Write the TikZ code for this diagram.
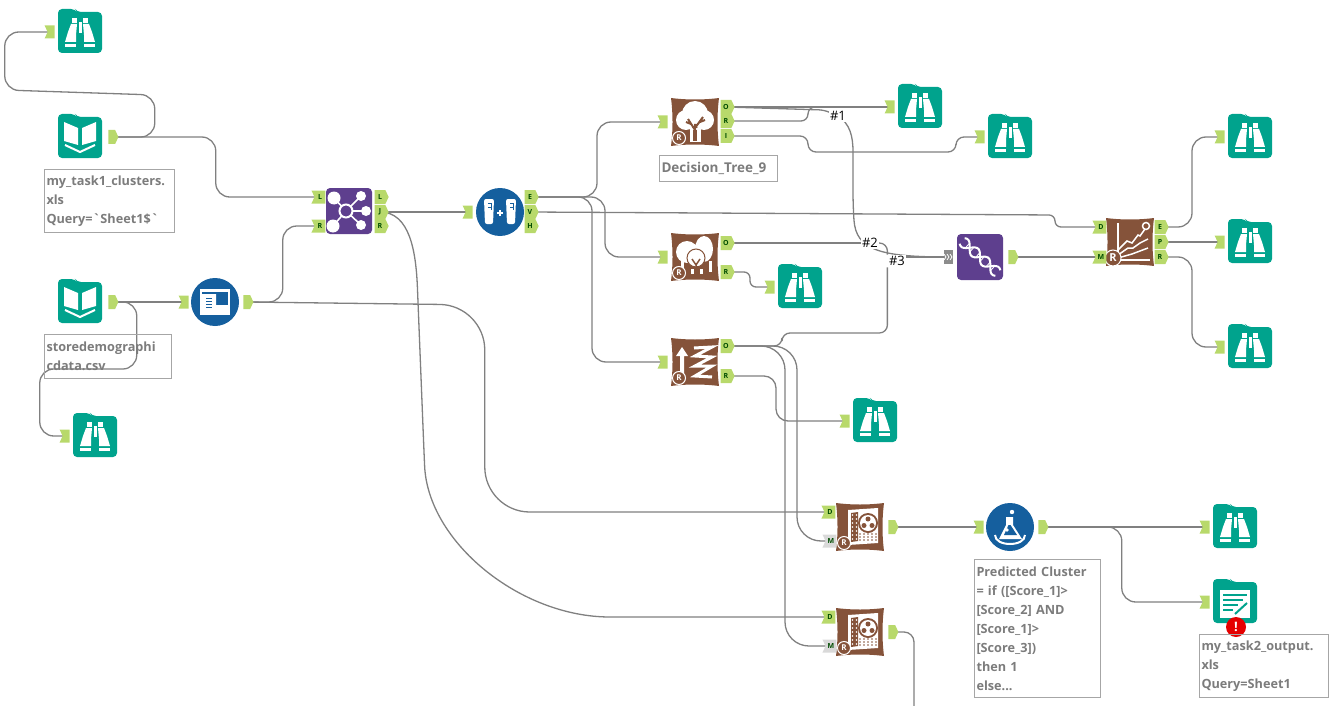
\documentclass[tikz,border=0pt]{standalone}
\usepackage{fontspec}
\newfontfamily\notefont{Open Sans}
\usetikzlibrary{positioning,backgrounds,shapes.symbols}

\definecolor{tealc}{HTML}{00A38D}
\definecolor{bluec}{HTML}{155F9E}
\definecolor{purplec}{HTML}{5E3F8E}
\definecolor{brownc}{HTML}{85533A}
\definecolor{limec}{HTML}{B8D96B}
\definecolor{wirec}{HTML}{808080}
\definecolor{notec}{HTML}{7C7C7C}

\tikzset{
    toolbox/.style={inner sep=0pt,minimum size=44pt},
    inflag/.style={shape=signal,signal to=nowhere,signal from=west,signal pointer angle=130,
        fill=limec,inner sep=0pt,minimum width=10pt,minimum height=13pt},
    outflag/.style={shape=signal,signal to=east,signal pointer angle=130,
        fill=limec,inner sep=0pt,minimum width=10pt,minimum height=14pt},
    intag/.style={inflag,minimum width=14pt,text=black!70!green,font=\notefont\bfseries\fontsize{7}{7}\selectfont},
    outtag/.style={outflag,minimum width=14pt,text=black!70!green,font=\notefont\bfseries\fontsize{7}{7}\selectfont},
    graytag/.style={intag,fill=black!15},
    multiflag/.style={fill=black!45,inner sep=0pt,minimum width=9pt,minimum height=14pt},
    note/.style={draw=black!35,line width=1pt,anchor=north west,inner sep=2pt,align=left,text=notec,
        font=\notefont\bfseries\fontsize{12.7}{19}\selectfont},
    hash/.style={fill=white,inner sep=1.5pt,font=\notefont\fontsize{13}{13}\selectfont},
    wirepen/.style={color=wirec,line width=1.3pt,rounded corners=14pt},
    elbow/.style={to path={-- ++(#1,0) |- (\tikztotarget)}},
    % tool bodies
    folder/.pic={
        \fill[tealc,rounded corners=4pt] (-22,-23) -- (-5,-23) -- (-3,-20) -- (22,-20) -- (22,21) -- (-22,21) -- cycle;
    },
    pillow/.pic={
        \fill[brownc] (-24,-24) .. controls (-8,-22) and (8,-22) .. (24,-24)
            .. controls (22,-8) and (22,8) .. (24,24)
            .. controls (8,22) and (-8,22) .. (-24,24)
            .. controls (-22,8) and (-22,-8) .. (-24,-24) -- cycle;
    },
    rbadge/.pic={
        \filldraw[fill=brownc,draw=white,line width=1pt] (0,0) circle (6.5);
        \node[white,inner sep=0pt,font=\notefont\bfseries\fontsize{8}{8}\selectfont] {R};
    },
    binoc/.pic={
        \pic {folder};
        \foreach \s in {1,-1} {
            \begin{scope}[xscale=\s]
                \fill[white] (3,-14) rectangle (8,-9);
                \fill[white] (3,-8) -- (9,-8) -- (12,0) -- (15,10) -- (4,10) -- (4,3) -- cycle;
                \fill[white] (4,12) rectangle (15,15);
            \end{scope}
        }
        \fill[white] (-1.5,-10) rectangle (1.5,1);
    },
    book/.pic={
        \pic {folder};
        \foreach \s in {1,-1} {
            \begin{scope}[xscale=\s]
                \fill[white] (2,-9) -- (16,-15) -- (16,4) -- (2,8) -- cycle;
            \end{scope}
        }
        \draw[white,line width=2pt] (-15,8) -- (0,15) -- (15,8);
    },
    writer/.pic={
        \pic {folder};
        \fill[white] (-15,-12) rectangle (15,16);
        \fill[tealc] (-12,-8) rectangle (12,-6);
        \fill[tealc] (-12,-3) rectangle (8,-1);
        \fill[tealc] (-12,2) rectangle (3,4);
        \fill[tealc] (-12,7) rectangle (-2,9);
        \draw[tealc,line width=2pt] (0,12) -- (12,1);
    },
    joinicon/.pic={
        \fill[purplec,rounded corners=4pt] (-23,-23) rectangle (23,23);
        \draw[white,line width=1.6pt] (-3,0) -- (-15,-13) (-3,0) -- (12,-15) (-3,0) -- (17,0)
            (-3,0) -- (12,14) (-3,0) -- (-16,15);
        \fill[white] (-15,-13) circle (6.5) (-16,15) circle (6.5) (12,-15) circle (5)
            (17,0) circle (5) (12,14) circle (5);
        \filldraw[fill=purplec,draw=white,line width=2pt] (-3,0) circle (6.5);
    },
    dnaicon/.pic={
        \fill[purplec,rounded corners=4pt] (-23,-23) rectangle (23,23);
        \begin{scope}[rotate=-42]
            \draw[white,line width=2pt] plot[smooth,domain=-24:24,samples=25] (\x,{5*sin(\x*13)});
            \draw[white,line width=2pt] plot[smooth,domain=-24:24,samples=25] (\x,{-5*sin(\x*13)});
            \foreach \t in {-17,-11,-3,3,11,17} \draw[white,line width=.8pt] (\t,-3) -- (\t,3);
        \end{scope}
    },
    chevrons/.pic={
        \foreach \x in {-3,0,3} \draw[white,line width=.8pt] (\x-1,-3) -- (\x+1,0) -- (\x-1,3);
    },
    samplesicon/.pic={
        \fill[bluec] (0,0) circle (24);
        \foreach \s in {-11,11} {
            \fill[white,rounded corners=2pt] (\s-5,-13) -- (\s+5,-13) -- (\s+4,12) -- (\s-4,12) -- cycle;
            \draw[bluec,line width=.8pt] (\s-1,-9) -- (\s+2,-9) (\s+2,-5) -- (\s-1,-5) (\s+2,-9) -- (\s+2,-2);
        }
        \draw[white,line width=1.5pt] (-3,1) -- (3,1) (0,-2) -- (0,4);
    },
    selecticon/.pic={
        \fill[bluec] (0,0) circle (24);
        \fill[white] (-15,-13) rectangle (15,13);
        \fill[bluec] (-13,-10) rectangle (13,10);
        \fill[white] (-13,10) -- (-13,-8) -- (1,-8) -- (1,3) -- (13,3) -- (13,10) -- cycle;
        \foreach \y in {-4,-1,2,5} \draw[bluec,line width=1pt] (-9,\y) -- (-3,\y);
    },
    flaskicon/.pic={
        \fill[bluec] (0,0) circle (24);
        \fill[white] (-4,-10) -- (3,-10) -- (3,-2) -- (12,12) -- (-11,12) -- (-4,-2) -- cycle;
        \fill[bluec] (-1.5,-2) -- (.5,-2) -- (7,8) -- (-6,8) -- cycle;
        \fill[white] (2,-15) circle (2.2) (-3,3) circle (1.8);
        \draw[white,line width=2pt] (-15,8) .. controls (-15,20) and (15,20) .. (15,8);
    },
    treeicon/.pic={
        \pic {pillow};
        \fill[white] (0,-8) circle (13) (-9,-2) circle (10) (9,-2) circle (10);
        \fill[white] (-5,6) rectangle (6,20);
        \draw[brownc,line width=2pt] (0,19) -- (0,2) (0,8) -- (-7,-3) (0,6) -- (8,-5) (-4,2) -- (-9,0) (5,0) -- (10,-2);
        \fill[brownc] (-2,8) rectangle (2,19);
        \pic at (-16,16) {rbadge};
    },
    foresticon/.pic={
        \pic {pillow};
        \fill[white] (-8,-5) circle (11) (9,-8) ellipse (9 and 13);
        \filldraw[fill=white,draw=brownc,line width=1pt] (1,1) circle (9);
        \draw[white,line width=3pt] (-13,4) -- (-13,15) (-3,12) -- (-3,17) (6,12) -- (6,17) (15,4) -- (15,15);
        \draw[brownc,line width=1.5pt] (1,14) -- (1,6) (1,8) -- (-3,2) (1,8) -- (5,2);
        \pic at (-16,16) {rbadge};
    },
    boosticon/.pic={
        \pic {pillow};
        \fill[white] (-13,-15) -- (-7,-6) -- (-11,-6) -- (-11,11) -- (-15,11) -- (-15,-6) -- (-19,-6) -- cycle;
        \draw[white,line width=3pt] (-1,-14) -- (17,-15) -- (0,-6) -- (17,-5) -- (0,4) -- (17,4) -- (0,14) -- (17,15);
        \pic at (-16,16) {rbadge};
    },
    lifticon/.pic={
        \pic {pillow};
        \draw[white,line width=1.5pt] (-12,-19) -- (-12,18) -- (20,18);
        \draw[white,line width=1.5pt] (-12,8) -- (-3,-1) -- (2,1) -- (8,-7) -- (10,-6) -- (15,-13);
        \draw[white,line width=1.5pt] (-12,13) -- (-2,6) -- (3,6) -- (10,1) -- (18,-3);
        \draw[white,line width=1.5pt] (-12,16) -- (2,12) -- (18,6);
        \draw[white,line width=1.5pt] (16,-16) circle (3.5);
        \filldraw[fill=brownc,draw=white,line width=1pt] (-17,16) circle (8);
        \node[white,inner sep=0pt,font=\notefont\bfseries\fontsize{11}{11}\selectfont] at (-17,16) {R};
    },
    scoreicon/.pic={
        \pic {pillow};
        \fill[white] (-12,-17) -- (18,-19) -- (18,16) -- (-12,18) -- cycle;
        \fill[brownc] (-9,-14) -- (-2,-15) -- (-2,14) -- (-9,15) -- cycle;
        \foreach \y in {-12,-8,...,12} \fill[white] (-7.5,\y) circle (.8) (-3.5,\y) circle (.8);
        \foreach \y in {8,11,14} \foreach \x in {0,4,8,12,16} \fill[brownc] (\x,\y-1) circle (.8);
        \fill[brownc] (8,-4) circle (10);
        \fill[white] (8,-4) circle (8);
        \fill[brownc] (8,-8) circle (2.5) (4,-1.5) circle (2.5) (12,-1.5) circle (2.5);
        \pic at (-16,16) {rbadge};
    },
}

\begin{document}
\begin{tikzpicture}[x=1pt,y=-1pt]
    \useasboundingbox (0,0) rectangle (1341,706);

    % browse tools
    \foreach \n/\x/\y in {br1/80/32,br2/95/436,br3/920/107,br4/1010/137,br5/800/287,br6/875/421,
                          br7/1250/137,br8/1250/242,br9/1250/347,br10/1235/527} {
        \node[toolbox] (\n) at (\x,\y) {};
        \pic at (\n) {binoc};
        \node[inflag,left=3pt of \n] (\n-in) {};
    }

    % input tools
    \node[toolbox] (rd1) at (80,137) {};
    \pic at (rd1) {book};
    \node[outflag,right=6pt of rd1] (rd1-out) {};
    \node[toolbox] (rd2) at (80,302) {};
    \pic at (rd2) {book};
    \node[outflag,right=6pt of rd2] (rd2-out) {};

    % select
    \node[toolbox] (sl) at (215,302) {};
    \pic at (sl) {selecticon};
    \node[inflag,left=4pt of sl] (sl-in) {};
    \node[outflag,right=6pt of sl] (sl-out) {};

    % join
    \node[toolbox] (jn) at (349,211) {};
    \pic at (jn) {joinicon};
    \node[intag] (jn-L) at (320,197) {L};
    \node[intag] (jn-R) at (320,226) {R};
    \node[outtag] (jn-l) at (380,197) {L};
    \node[outtag] (jn-J) at (380,212) {J};
    \node[outtag] (jn-r) at (380,226) {R};

    % create samples
    \node[toolbox] (cs) at (500,212) {};
    \pic at (cs) {samplesicon};
    \node[inflag,left=5pt of cs] (cs-in) {};
    \node[outtag] (cs-E) at (530,197) {E};
    \node[outtag] (cs-V) at (530,212) {V};
    \node[outtag] (cs-H) at (530,226) {H};

    % models
    \node[toolbox] (dt) at (695,122) {};
    \pic at (dt) {treeicon};
    \node[inflag,left=5pt of dt] (dt-in) {};
    \node[outtag] (dt-O) at (726,107) {O};
    \node[outtag] (dt-R) at (726,121) {R};
    \node[outtag] (dt-I) at (726,136) {I};

    \node[toolbox] (fo) at (695,257) {};
    \pic at (fo) {foresticon};
    \node[inflag,left=5pt of fo] (fo-in) {};
    \node[outtag] (fo-O) at (726,243) {O};
    \node[outtag] (fo-R) at (726,272) {R};

    \node[toolbox] (bo) at (695,362) {};
    \pic at (bo) {boosticon};
    \node[inflag,left=5pt of bo] (bo-in) {};
    \node[outtag] (bo-O) at (726,346) {O};
    \node[outtag] (bo-R) at (726,376) {R};

    % union and lift chart
    \node[toolbox] (dn) at (980,257) {};
    \pic at (dn) {dnaicon};
    \node[multiflag] (dn-in) at (948,257) {};
    \pic at (dn-in) {chevrons};
    \node[outflag,right=6pt of dn] (dn-out) {};

    \node[toolbox] (li) at (1130,242) {};
    \pic at (li) {lifticon};
    \node[intag] (li-D) at (1101,227) {D};
    \node[intag] (li-M) at (1101,257) {M};
    \node[outtag] (li-E) at (1160,227) {E};
    \node[outtag] (li-P) at (1160,242) {P};
    \node[outtag] (li-R) at (1160,257) {R};

    % scoring
    \node[toolbox] (sc1) at (860,527) {};
    \pic at (sc1) {scoreicon};
    \node[intag] (sc1-D) at (830,512) {D};
    \node[graytag] (sc1-M) at (831,541) {M};
    \node[outflag,right=6pt of sc1] (sc1-out) {};

    \node[toolbox] (sc2) at (860,632) {};
    \pic at (sc2) {scoreicon};
    \node[intag] (sc2-D) at (830,617) {D};
    \node[graytag] (sc2-M) at (831,646) {M};
    \node[outflag,right=6pt of sc2] (sc2-out) {};
    \coordinate (cut) at (914,706);

    \node[toolbox] (fm) at (1010,527) {};
    \pic at (fm) {flaskicon};
    \node[inflag,left=4pt of fm] (fm-in) {};
    \node[outflag,right=6pt of fm] (fm-out) {};

    \node[toolbox] (ou) at (1235,602) {};
    \pic at (ou) {writer};
    \node[inflag,left=3pt of ou] (ou-in) {};
    \node[circle,fill=red!90!black,text=white,inner sep=0pt,minimum size=20pt,
          font=\notefont\bfseries\fontsize{13}{13}\selectfont] (ou-err) at (1236,627) {!};

    % comments
    \node[note,text width=126pt,minimum height=63pt] (cm1) at (44,169)
        {my\_task1\_clusters.\\xls\\Query=`Sheet1\$`};
    \node[note,text width=123pt,minimum height=44pt] (cm2) at (44,334)
        {storedemographi\\cdata.csv};
    \node[note,text width=114pt,minimum height=26pt] (cm3) at (659,155)
        {\fontsize{13.5}{19}\selectfont Decision\_Tree\_9};
    \node[note,text width=122pt,minimum height=138pt] (cm4) at (974,559)
        {Predicted Cluster\\= if ([Score\_1]>\\{}[Score\_2] AND\\{}[Score\_1]>\\{}[Score\_3])\\then 1\\else...};
    \node[note,text width=125pt,minimum height=63pt] (cm5) at (1199,634)
        {my\_task2\_output.\\xls\\Query=Sheet1};

    % wire names
    \node[hash] (h1) at (838,116) {\#1};
    \node[hash] (h2) at (870,243) {\#2};
    \node[hash] (h3) at (897,261) {\#3};

    \begin{scope}[on background layer]
    \begin{scope}[wirepen]
        \draw (rd1-out.center) -- ++(43,0) -- ++(0,-42) -- ++(-150,-5) |- (br1-in.center);
        \draw (rd2-out.center) -- ++(25,0) -- ++(0,67) -- ++(-97,0) |- (br2-in.center);
        \draw[rounded corners=45pt] (sl-out.center) -- ++(238,3) |- (sc1-D.center);
        \draw (jn-J.center) .. controls +(30,0) and +(-2,-50) .. ++(38,90) -- ++(6,150)
            .. controls +(4,90) and +(-104,0) .. ++(200,165) -- (sc2-D.center);
        \draw[rounded corners=6pt] (cs-V.center) -- ++(525,3) |- (li-D.center);

        \path (rd1-out.center) edge[elbow=104] (jn-L.center)
              (rd2-out.center) edge (sl-in.center)
              (sl-out.center) edge[elbow=36] (jn-R.center)
              (jn-J.center) edge (cs-in.center)
              (cs-E.center) edge[elbow=67] (dt-in.center)
              (cs-E.center) edge[elbow=75] (fo-in.center)
              (cs-E.center) edge[elbow=62] (bo-in.center)
              (dt-O.center) edge (br3-in.center)
              (dt-R.center) edge[elbow=82,rounded corners=7pt] (br3-in.center)
              (fo-R.center) edge[elbow=24,rounded corners=6pt] (br5-in.center)
              (bo-R.center) edge[elbow=50,rounded corners=12pt] (br6-in.center)
              (bo-O.center) edge[elbow=71,rounded corners=24pt] (sc1-M.center)
              (bo-O.center) edge[elbow=59,rounded corners=24pt] (sc2-M.center)
              (sc1-out.center) edge (fm-in.center)
              (fm-out.center) edge (br10-in.center)
              (fm-out.center) edge[elbow=80] (ou-in.center)
              (dn-out.center) edge (li-M.center)
              (li-E.center) edge[elbow=32] (br7-in.center)
              (li-P.center) edge (br8-in.center)
              (li-R.center) edge[elbow=32] (br9-in.center)
              (fo-O.center) edge (h2.center)
        ;

        \draw[rounded corners=8pt] (dt-I.center) -- ++(82,0) -- ++(0,16) -- ++(148,0) |- (br4-in.center);
        \draw[rounded corners=10pt] (sc2-out.center) -| (cut);
        \draw[rounded corners=5pt] (dt-O.center) -- ++(98,3) -- (h1.center);
        \draw (h1.center) .. controls +(12,8) and +(0,-30) .. ++(15,50) -- ++(0,40)
            .. controls +(3,44) and +(-68,0) .. (dn-in.center);
        \draw[rounded corners=8pt] (h2.center) -| (h3.north west);
        \draw[rounded corners=8pt] (bo-O.center) -- ++(56,0) -- ++(0,-13) -| (h3.south west);
        \draw (h3.center |- dn-in.center) -- (dn-in.center);
    \end{scope}
    \end{scope}
\end{tikzpicture}
\end{document}
